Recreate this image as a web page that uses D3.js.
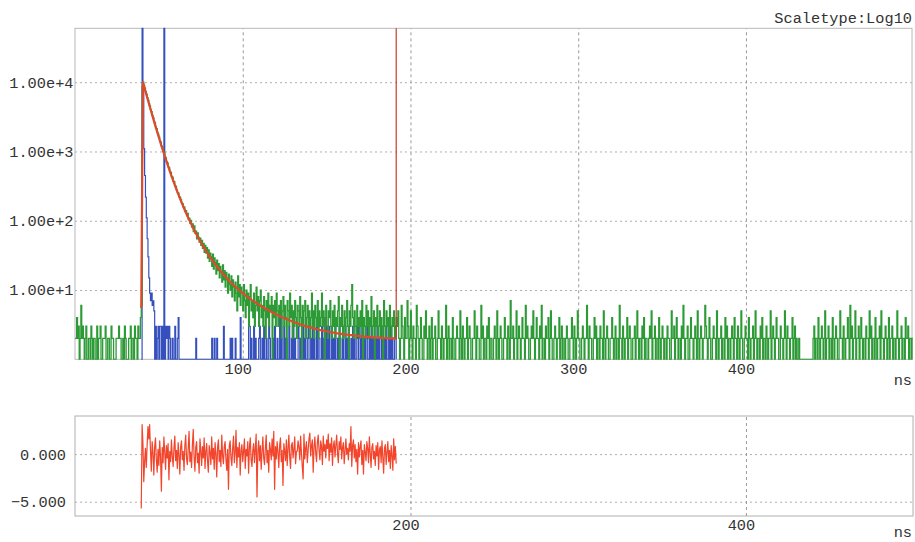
<!DOCTYPE html>
<html>
<head>
<meta charset="utf-8">
<script src="https://cdn.jsdelivr.net/npm/d3@7"></script>
<style>
  html, body { margin: 0; padding: 0; background: #ffffff; }
  svg { display: block; }
  text { font-family: "Liberation Mono", "Courier New", monospace; font-size: 15.3px; fill: #333; }
</style>
</head>
<body>
<svg id="chart" width="915" height="542"></svg>
<script>
// ---------------- data ----------------
// Channel width of the histogram (ns)
const channelWidth = 0.5;

// Decay histogram (counts), in three runs: before the pulse, the decay, and the tail
const decayCountsBefore = [
  2,2,4,2,3,0,2,6,2,3, 2,0,2,3,0,0,2,2,0,3, 2,0,2,2,0,0,3,0,2,2, 3,0,0,2,2,2,3,0,0,2,
  2,0,0,3,2,2,0,0,0,2, 2,2,3,2,2,0,0,2,0,3, 2,0,0,0,2,2,3,0,2,2, 0,3,2,2,0,3,2,2,4
];
const decayCountsBeforeStart = 0;

const decayCountsMain = [
  6,8700,10060,8960,8230,7310,6720,5990,5530,4910,4540,4030,3760,3320,3090,2740,2580,2270,2130,1880,
  1770,1610,1420,1360,1190,1140,1003,955,842,808,711,684,598,579,510,497,432,426,371,366,
  318,312,276,255,251,222,218,201,183,176,158,157,136,140,119,128,104,109,92,101,
  81,90,70,84,66,71,55,67,58,49,56,44,52,40,47,35,44,34,41,29,
  38,26,34,30,22,33,20,29,25,17,27,19,24,15,22,18,13,23,14,19,
  11,18,14,9,17,12,10,16,8,14,11,7,13,9,5,16,8,12,6,11,
  9,5,12,7,4,10,6,9,3,8,12,5,7,4,9,3,6,11,5,8,
  3,7,10,4,6,3,8,5,2,7,4,9,3,6,5,8,1,6,4,7,
  3,9,5,3,6,4,7,2,5,8,3,6,4,0,7,5,3,9,4,6,
  2,5,3,7,4,2,6,5,3,8,4,1,6,3,5,7,2,4,6,3,
  5,2,4,9,3,5,2,6,4,3,7,2,5,3,4,9,3,5,1,4,
  6,3,2,5,4,7,3,2,5,3,6,2,4,3,5,8,1,4,3,6,
  2,3,5,2,4,7,3,0,5,3,6,12,4,2,5,3,2,6,3,4,
  2,5,3,7,1,4,3,2,6,3,5,2,4,3,8,2,3,5,1,4,
  3,6,2,3,5,2,4,3,1,7,3,2,5,3,4,2,6,3,2,4,
  3,5,2,3,4
];
const decayCountsMainStart = 39.5;

const decayCountsAfter = [
  3,5,2,0,2,6,3,2,0,4, 2,2,7,3,0,2,5,2,0,3, 2,2,0,6,3,2,0,2,4,2, 0,0,3,2,5,2,0,2,3,0,
  2,4,0,2,2,3,0,0,2,5, 2,2,0,3,2,0,2,2,6,0, 2,3,0,2,2,0,4,2,0,0, 2,3,2,2,0,5,2,0,3,2,
  0,2,2,4,0,2,3,2,0,0, 2,2,5,2,0,3,2,2,0,0, 6,2,3,0,2,2,0,3,2,4, 0,2,2,0,0,2,3,2,0,5,
  2,0,2,3,2,0,0,2,4,2, 2,0,3,2,0,7,2,2,3,0, 2,2,5,0,2,3,2,0,2,4, 2,2,0,6,2,3,2,0,0,2,
  3,2,5,2,0,2,4,2,2,0, 3,2,6,0,2,2,0,3,2,2, 4,0,2,5,2,0,0,2,3,2, 0,2,2,4,0,2,3,0,2,2,
  0,2,3,2,0,0,2,2,4,2, 0,3,2,0,2,5,2,2,0,0, 2,3,2,0,2,2,6,2,0,3, 2,2,0,0,2,4,2,3,0,2,
  2,0,3,2,2,0,5,2,0,2, 3,2,0,0,2,2,4,2,0,2, 3,0,2,2,0,6,2,2,0,3, 2,0,2,2,4,0,2,3,2,0,
  0,2,2,3,0,2,5,2,0,2, 2,0,3,2,4,0,2,2,0,0, 2,3,2,5,0,2,2,3,0,2, 2,0,4,2,0,2,3,2,0,2,
  2,0,3,2,2,0,0,5,2,2, 3,0,2,4,2,0,2,2,0,3, 2,6,2,0,2,2,3,0,0,2, 4,2,2,0,2,3,2,0,5,2,
  0,2,3,2,0,2,2,6,3,2, 0,2,4,2,0,0,2,3,2,2, 0,5,2,0,2,2,3,0,2,2, 0,4,2,3,0,2,2,0,2,3,
  2,0,4,2,2,0,3,2,0,2, 5,2,0,0,2,3,2,2,0,4, 2,0,2,2,3,0,2,5,2,0, 2,2,0,3,2,4,0,2,2,0,
  3,2,0,2,2,5,0,2,3,2, 0,2,4,2,2,0,0,3,2,2, 0,2,5,2,0,3,2,2,0,2, 2,4,0,2,3,0,2,0,0,2,
  0,1,0,0,1,0,0,0,1,0, 0,0,0,1,0,0,2,3,0,2, 2,0,4,2,0,2,3,2,0,2, 5,0,2,2,3,0,2,2,0,4,
  2,0,2,3,2,0,0,2,5,2, 2,0,3,2,0,2,2,4,2,0, 6,2,3,0,2,2,5,0,2,2, 3,0,2,4,2,0,2,2,0,3,
  2,2,0,5,2,3,0,2,2,0, 4,2,0,2,2,3,0,5,2,2, 0,2,3,2,0,2,4,0,2,2, 3,0,2,2,0,2,5,2,0,2,
  2,3,0,2,2,0,4,2,2,3, 0,2,2,0,2,2
];
const decayCountsAfterStart = 192;

// Instrument response (counts) inside the fit window
const irfCountsPeak = [
  0,90000,8000,1100,450,220,110,55,30,15, 9,7,9,6,7,5,0,3,0,2,
  3,0,3,3,0,3,0,90000,0,3, 2,3,0,3,2,0,0,2,0,0, 3
];
const irfCountsPeakStart = 39.5;

const irfCountsMid = [
  0,0,2,4,0,0,0,0,0,0, 0,0,0,0,0,0,0,0,0,0, 0,0,0,0,2,0,0,0,0,0, 0,0,0,0,0,0,0,0,0,0,
  0,0,0,2,0,0,2,0,0,2, 0,0,0,0,0,0,0,3,0,0, 0,0,0,0,0,2,0,2,0,0, 0,2,0,0,0,0,0,4,0,0,
  0,0,0,0,0,0,0,3
];
const irfCountsMidStart = 60;

const irfCountsLate = [
  3,0,2,0,0,3,0,2,0,0,0,2,3,0,0,2,0,3,0,0,
  2,0,0,3,2,0,0,0,2,0,3,0,0,2,0,0,4,0,2,0,
  0,3,0,2,2,0,0,3,0,0,2,0,3,0,2,0,0,0,3,2,
  0,2,0,0,3,0,2,0,0,2,3,0,0,2,0,3,0,2,0,0,
  3,0,2,2,0,0,3,0,2,0,0,4,0,2,0,3,0,0,2,0,
  2,0,3,0,0,2,0,3,2,0,0,2,0,0,3,0,2,0,3,0,
  0,2,0,3,0,2,0,0,2,3,0,0,2,0,3,0,0,2,0,2,
  3,0,0,2,0,3,0,2,0,0,2,0,3,0,2,0,0,3,0,2,
  0,2,0,3,0,0,2,0,3,0,2,0,0,2,3,0
];
const irfCountsLateStart = 104;

// Fitted decay curve, sampled every 1 ns from 39.5 ns
const fitStart = 39.5;
const fitStep = 1;
const fitValues = [
  5.5,
  9987, 8159, 6679, 5477, 4500, 3706, 3057, 2529, 2099, 1745,
  1455, 1218, 1021, 859, 726, 614, 522, 446, 382, 327,
  282.5, 244.4, 212.1, 184.9, 161.8, 141.9, 125.1, 110.6, 98.1, 87.3,
  78.1, 69.8, 62.9, 56.7, 51.2, 46.6, 42.4, 38.7, 35.4, 32.5,
  29.9, 27.6, 25.5, 23.7, 22.0, 20.6, 19.2, 17.9, 16.8, 15.8,
  14.9, 13.9, 13.1, 12.5, 11.8, 11.2, 10.7, 10.2, 9.68, 9.24,
  8.84, 8.46, 8.11, 7.78, 7.47, 7.17, 6.90, 6.64, 6.40, 6.17,
  5.96, 5.76, 5.57, 5.38, 5.22, 5.06, 4.90, 4.77, 4.62, 4.50,
  4.38, 4.26, 4.15, 4.04, 3.95, 3.85, 3.77, 3.68, 3.60, 3.51,
  3.44, 3.38, 3.31, 3.24, 3.18, 3.12, 3.06, 3.01, 2.96, 2.91,
  2.87, 2.83, 2.79, 2.75, 2.71, 2.67, 2.64, 2.61, 2.58, 2.55,
  2.52, 2.49, 2.46, 2.44, 2.42, 2.39, 2.37, 2.35, 2.33, 2.31,
  2.29, 2.28, 2.26, 2.24, 2.23, 2.21, 2.20, 2.19, 2.17, 2.16,
  2.15, 2.14, 2.13, 2.12, 2.11, 2.10, 2.09, 2.08, 2.07, 2.06,
  2.06, 2.05, 2.04, 2.04, 2.03, 2.02, 2.02, 2.01, 2.01, 2.00,
  2.00, 1.99
];
// End of the fit window (ns)
const fitWindowEnd = 191.5;

// Weighted residuals, one per channel from 39.5 ns
const residualStart = 39.5;
const residuals = [
  -5.7, 3.1, 1.2, -2.9, -0.8, 0.6, -1.4, 0.9, 2.9, 1.6, 3.1, 0.4, -1.8, 1.3, 0.2, -2.2, 0.8, 1.7, -0.6, -1.9,
  0.5, -1.2, 1.4, -0.3, -3.9, 0.7, -0.9, 1.8, 0.2, -1.6, 0.9, -0.4, 1.1, -2.7, 0.3, -0.8, 1.5, -0.2, -1.3, 0.6,
  1.9, -0.7, 0.4, -1.5, 1.2, -0.1, -2.1, 0.8, 1.4, -0.6, 0.3, -1.7, 0.9, 2.0, -0.5, -1.1, 0.6, 2.4, -0.8, 0.2,
  -1.4, 1.0, 2.6, -0.3, -1.8, 0.7, 1.3, -0.9, 0.1, -2.0, 1.6, 0.4, -1.2, 0.8, -0.4, 1.7, -1.5, 0.3, 1.1, -0.7,
  -1.9, 0.9, 0.2, -1.1, 1.8, -0.5, 0.6, -1.6, 1.2, 0.0, -2.4, 0.7, 1.5, -0.8, 0.4, -1.3, 2.0, -0.2, -1.0, 0.8,
  1.3, -0.6, -1.7, 0.5, -3.7, 0.9, 1.4, -0.4, -1.2, 0.6, 1.9, -0.9, 0.2, 2.5, -1.4, 0.7, -0.3, 1.2, -2.2, 0.4,
  1.0, -0.8, 0.3, 1.6, -1.5, 0.5, -0.2, 1.3, -2.0, 0.8, 1.7, -0.6, -1.3, 0.4, 1.1, -0.9, 0.6, 2.1, -4.5, 0.2,
  1.4, -0.7, 0.9, -1.6, 0.3, 1.8, -0.4, -1.1, 0.7, 2.0, -0.9, 0.4, -1.9, 1.2, 0.5, -0.6, 1.6, -0.2, 2.4, -3.7,
  0.8, -0.5, 1.3, 0.2, -1.4, 0.9, 1.7, -0.8, 0.4, -3.3, 1.1, 0.3, -0.7, 1.5, -1.2, 0.6, 2.0, -0.3, -1.5, 0.9,
  1.2, -0.4, 0.5, 1.8, -1.0, 0.3, 0.3, 1.4, 0.7, -0.6, 1.9, 0.1, -1.3, -2.6, 2.1, -0.5, 0.6, 1.3, -0.9, 0.4,
  1.6, 2.2, -0.2, 0.9, 1.5, -1.9, 0.7, 1.8, 0.2, -0.8, 1.2, 2.0, 0.4, -0.6, 1.4, 0.8, -1.1, 1.9, 0.3, 1.0,
  -0.4, 1.5, 0.6, 2.1, -0.7, 1.1, 0.2, 1.7, -1.2, 0.8, 1.4, -0.3, 0.9, 2.0, 0.1, -0.9, 1.3, 0.5, 1.8, -0.5,
  0.7, 1.2, -1.0, 0.4, 1.6, 0.0, 0.6, -0.6, 1.1, 0.3, 2.9, -1.3, 0.9, 1.5, -0.4, 1.0, -0.8, 0.5, -2.1, 1.2,
  -0.3, 0.8, 1.4, -1.1, 0.4, -2.1, 1.0, 0.2, -0.7, 1.3, 0.6, -0.9, 1.8, 0.1, -1.4, 0.7, 1.1, -0.5, 0.3, -1.2,
  0.9, -0.2, 1.2, -1.6, 0.5, 0.8, -0.9, 1.4, -0.3, -2.0, 0.6, 1.0, -1.1, 0.2, 1.3, -0.8, 0.4, -1.5, 0.9, -0.2,
  -1.7, 1.6, -0.6, 0.8, -1.0
];

// Axis ticks and labels
const timeTicksTop = [100, 200, 300, 400];
const timeTicksBottom = [200, 400];
const countTicks = [10, 100, 1000, 10000];
const residualTicks = [0, -5];
const timeUnit = "ns";
const scaleNote = "Scaletype:Log10";

// ---------------- layout ----------------
const svg = d3.select("#chart");
const left = 75, right = 912;
const topPanel = { top: 28.3, bottom: 359.3 };
const botPanel = { top: 416, bottom: 516 };
const monoFont = "'Liberation Mono', 'Courier New', monospace";

const x = d3.scaleLinear().domain([0, 499]).range([left, right]);
const y = d3.scaleLog().domain([1, 60000]).range([topPanel.bottom, topPanel.top]).clamp(true);
const yr = d3.scaleLinear().domain([-6.5, 4]).range([botPanel.bottom, botPanel.top]);

function channels(values, start, dt) {
  return values.map((v, i) => ({ t: start + i * dt, v }));
}

const decaySeries = [].concat(
  channels(decayCountsBefore, decayCountsBeforeStart, channelWidth),
  channels(decayCountsMain, decayCountsMainStart, channelWidth),
  channels(decayCountsAfter, decayCountsAfterStart, channelWidth)
);
const irfSeries = [].concat(
  channels(irfCountsPeak, irfCountsPeakStart, channelWidth),
  channels(irfCountsMid, irfCountsMidStart, channelWidth),
  channels(irfCountsLate, irfCountsLateStart, channelWidth)
);
const fitSeries = channels(fitValues, fitStart, fitStep);
const residualSeries = channels(residuals, residualStart, channelWidth);

const gridColor = "#b4b0a4";

function styleLabels(g) {
  g.select(".domain").remove();
  g.selectAll("text").attr("fill", "#333")
    .style("font-size", "15.3px").style("font-family", monoFont);
}

// ---------------- top panel: grid ----------------
const gTop = svg.append("g");

gTop.append("g")
  .attr("transform", `translate(${left},0)`)
  .call(d3.axisLeft(y).tickValues(countTicks).tickSize(-(right - left)).tickFormat(""))
  .call(g => g.select(".domain").remove())
  .call(g => g.selectAll("line").attr("stroke", gridColor).attr("stroke-dasharray", "2,3"));

gTop.append("g")
  .attr("transform", `translate(0,${topPanel.bottom})`)
  .call(d3.axisBottom(x).tickValues(timeTicksTop).tickSize(-(topPanel.bottom - topPanel.top)).tickFormat(""))
  .call(g => g.select(".domain").remove())
  .call(g => g.selectAll("line").attr("stroke", "#9a9a9a").attr("stroke-dasharray", "3,3"));

gTop.append("rect")
  .attr("x", left).attr("y", topPanel.top)
  .attr("width", right - left).attr("height", topPanel.bottom - topPanel.top)
  .attr("fill", "none").attr("stroke", "#b8b8b8").attr("stroke-width", 1);

// ---------------- top panel: labels ----------------
gTop.append("g")
  .attr("transform", `translate(${left},0)`)
  .call(d3.axisLeft(y).tickValues(countTicks).tickSize(0).tickPadding(1.5)
    .tickFormat(d => d.toExponential(2)))
  .call(styleLabels);

gTop.append("g")
  .attr("transform", `translate(0,${topPanel.bottom})`)
  .call(d3.axisBottom(x).tickValues(timeTicksTop).tickSize(0).tickPadding(3.8).tickFormat(d3.format("d")))
  .call(styleLabels)
  .call(g => g.selectAll("text").attr("dx", -5));

svg.append("text").attr("x", right).attr("y", 385).attr("text-anchor", "end").text(timeUnit);
svg.append("text").attr("x", right).attr("y", 23).attr("text-anchor", "end").text(scaleNote);

// ---------------- top panel: data ----------------
svg.append("clipPath").attr("id", "clipTop")
  .append("rect").attr("x", left).attr("y", topPanel.top - 1)
  .attr("width", right - left + 1).attr("height", topPanel.bottom - topPanel.top + 1.5);

// histograms are drawn channel by channel as steps
const countSteps = d3.line()
  .curve(d3.curveStepAfter)
  .x(d => x(d.t))
  .y(d => y(Math.max(d.v, 1)));

const fitLine = d3.line()
  .x(d => x(d.t))
  .y(d => y(Math.max(d.v, 1)));

const dataLayer = svg.append("g").attr("clip-path", "url(#clipTop)");

dataLayer.append("path").datum(irfSeries)
  .attr("d", countSteps).attr("fill", "none")
  .attr("stroke", "#3550bd").attr("stroke-width", 1.2);

dataLayer.append("path").datum(decaySeries)
  .attr("d", countSteps).attr("fill", "none")
  .attr("stroke", "#2c9a35").attr("stroke-width", 1.3);

dataLayer.append("path").datum(fitSeries)
  .attr("d", fitLine).attr("fill", "none")
  .attr("stroke", "#de4a2c").attr("stroke-width", 2.2).attr("stroke-linejoin", "round");

// fit window end marker
const lastFit = fitSeries[fitSeries.length - 1];
dataLayer.append("line")
  .attr("x1", x(fitWindowEnd)).attr("x2", x(fitWindowEnd))
  .attr("y1", y(lastFit.v)).attr("y2", topPanel.top)
  .attr("stroke", "#c83a2a").attr("stroke-width", 1.2);

// ---------------- bottom panel: residuals ----------------
const gBot = svg.append("g");

gBot.append("g")
  .attr("transform", `translate(${left},0)`)
  .call(d3.axisLeft(yr).tickValues(residualTicks).tickSize(-(right - left + 1)).tickFormat(""))
  .call(g => g.select(".domain").remove())
  .call(g => g.selectAll("line").attr("stroke", gridColor).attr("stroke-dasharray", "2,3"));

gBot.append("g")
  .attr("transform", `translate(0,${botPanel.bottom})`)
  .call(d3.axisBottom(x).tickValues(timeTicksBottom).tickSize(-(botPanel.bottom - botPanel.top)).tickFormat(""))
  .call(g => g.select(".domain").remove())
  .call(g => g.selectAll("line").attr("stroke", "#9a9a9a").attr("stroke-dasharray", "3,3"));

gBot.append("rect")
  .attr("x", left).attr("y", botPanel.top)
  .attr("width", right - left + 1).attr("height", botPanel.bottom - botPanel.top)
  .attr("fill", "none").attr("stroke", "#b0b0b0").attr("stroke-width", 1);

gBot.append("g")
  .attr("transform", `translate(${left},0)`)
  .call(d3.axisLeft(yr).tickValues(residualTicks).tickSize(0).tickPadding(9)
    .tickFormat(d3.format(".3f")))
  .call(styleLabels);

gBot.append("g")
  .attr("transform", `translate(0,${botPanel.bottom})`)
  .call(d3.axisBottom(x).tickValues(timeTicksBottom).tickSize(0).tickPadding(3.1).tickFormat(d3.format("d")))
  .call(styleLabels)
  .call(g => g.selectAll("text").attr("dx", -5));

svg.append("text").attr("x", right).attr("y", 537).attr("text-anchor", "end").text(timeUnit);

const residualLine = d3.line()
  .x(d => x(d.t))
  .y(d => yr(d.v));

gBot.append("path").datum(residualSeries)
  .attr("d", residualLine).attr("fill", "none")
  .attr("stroke", "#f2452c").attr("stroke-width", 1.2).attr("stroke-linejoin", "round");
</script>
</body>
</html>
